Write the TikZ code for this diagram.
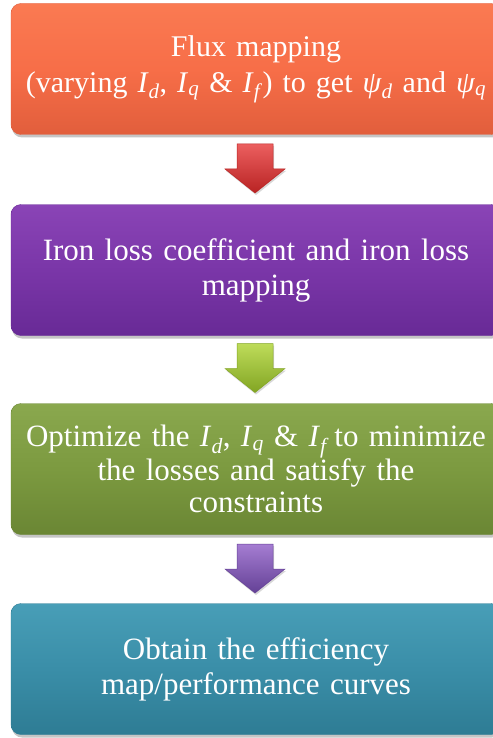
\documentclass[tikz,border=0pt]{standalone}
\usepackage{fontspec}
\setmainfont{Liberation Serif}
\usetikzlibrary{shadows}
\definecolor{orA}{RGB}{250,122,82}
\definecolor{orB}{RGB}{247,110,72}
\definecolor{orC}{RGB}{225,94,60}
\definecolor{puA}{RGB}{138,68,182}
\definecolor{puB}{RGB}{122,54,168}
\definecolor{puC}{RGB}{104,42,150}
\definecolor{grA}{RGB}{138,168,78}
\definecolor{grB}{RGB}{124,154,64}
\definecolor{grC}{RGB}{106,134,52}
\definecolor{teA}{RGB}{72,158,183}
\definecolor{teB}{RGB}{58,142,168}
\definecolor{teC}{RGB}{46,124,148}
\definecolor{arRl}{RGB}{235,95,95}
\definecolor{arRd}{RGB}{185,35,35}
\definecolor{arGl}{RGB}{190,220,90}
\definecolor{arGd}{RGB}{130,165,35}
\definecolor{arPl}{RGB}{165,125,210}
\definecolor{arPd}{RGB}{100,65,150}
\newcommand\mysub[1]{\textsubscript{\textit{#1}}}
\newcommand\blockarrow[3]{%
  \path[draw=#3, line width=0.5pt, left color=#2, right color=#3, shading angle=0,
    drop shadow={shadow xshift=1pt,shadow yshift=-2pt,opacity=0.3}]
    ([shift={(-18,0)}]#1) -- ([shift={(18,0)}]#1) -- ([shift={(18,-25)}]#1)
    -- ([shift={(30,-25)}]#1) -- ([shift={(0,-49)}]#1) -- ([shift={(-30,-25)}]#1)
    -- ([shift={(-18,-25)}]#1) -- cycle;}
\begin{document}
\begin{tikzpicture}[x=1pt,y=1pt,
  stepbox/.style={rounded corners=10pt, minimum width=488pt, minimum height=131pt,
    text width=490pt, align=center, text=white, inner sep=0pt,
    font=\fontsize{31}{35}\selectfont,
    drop shadow={shadow xshift=1pt,shadow yshift=-3pt,opacity=0.45}}
]
\useasboundingbox (0,0) rectangle (492,-738);
\fill[white] (0,0) rectangle (492,-738);

\node[stepbox, top color=orA, bottom color=orC, middle color=orB, draw=orC,
  font=\fontsize{30}{36}\selectfont] (b1) at (256,-69)
  {Flux mapping\\(varying \textit{I}\mysub{d}, \textit{I}\mysub{q} \& \textit{I}\mysub{f}) to get \textit{ψ}\mysub{d} and \textit{ψ}\mysub{q}};
\node[stepbox, top color=puA, bottom color=puC, middle color=puB, draw=puC] (b2) at (256,-270)
  {Iron loss coefficient and iron loss\\mapping};
\node[stepbox, top color=grA, bottom color=grC, middle color=grB, draw=grC,
  font=\fontsize{31}{32}\selectfont] (b3) at (256,-469)
  {Optimize the \textit{I}\mysub{d}, \textit{I}\mysub{q} \& \textit{I}\mysub{f}\,to minimize\\the losses and satisfy the\\constraints};
\node[stepbox, top color=teA, bottom color=teC, middle color=teB, draw=teC] (b4) at (256,-669)
  {Obtain the efficiency\\map/performance curves};

\coordinate (a1) at (255,-144);
\coordinate (a2) at (255,-343.5);
\coordinate (a3) at (255,-544);
\blockarrow{a1}{arRl}{arRd}
\blockarrow{a2}{arGl}{arGd}
\blockarrow{a3}{arPl}{arPd}
\end{tikzpicture}
\end{document}
